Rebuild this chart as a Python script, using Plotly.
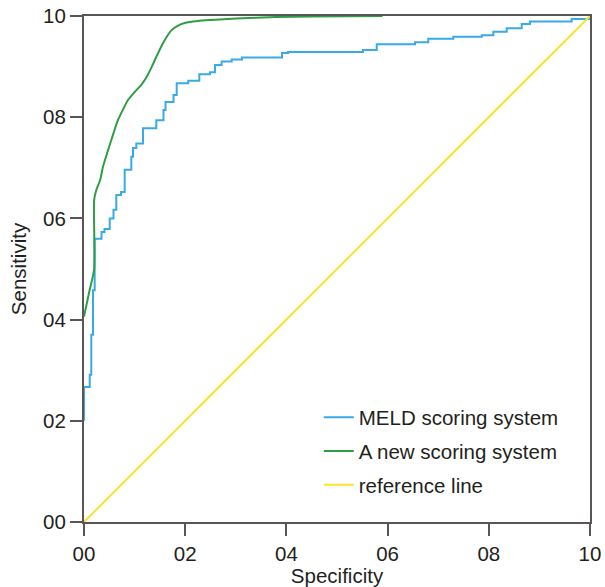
import plotly.graph_objects as go

# MELD scoring system (step ROC curve): specificity axis value, sensitivity
meld_x = [0.0, 0.0, 0.0113, 0.0144, 0.0178, 0.0211, 0.0346, 0.0405, 0.0508, 0.0583,
          0.0638, 0.0731, 0.0804, 0.0935, 0.0968, 0.1034, 0.1166, 0.1429, 0.1571,
          0.1611, 0.1769, 0.1832, 0.2061, 0.2279, 0.2490, 0.2589, 0.2721, 0.2919,
          0.3123, 0.3913, 0.4032, 0.5514, 0.5785, 0.6542, 0.6804, 0.7298, 0.7860,
          0.8089, 0.8354, 0.8650, 0.8814, 0.9638, 1.0]
meld_y = [0.200, 0.267, 0.291, 0.370, 0.458, 0.560, 0.573, 0.579, 0.600, 0.617,
          0.646, 0.652, 0.696, 0.722, 0.739, 0.748, 0.778, 0.794, 0.814,
          0.830, 0.844, 0.867, 0.872, 0.885, 0.889, 0.903, 0.910, 0.914,
          0.918, 0.927, 0.929, 0.933, 0.944, 0.948, 0.955, 0.959, 0.962,
          0.969, 0.976, 0.984, 0.989, 0.994, 1.0]

# A new scoring system (smooth curve)
new_x = [0.0, 0.010, 0.020, 0.020, 0.024, 0.032, 0.0375, 0.046, 0.054, 0.067, 0.077,
         0.087, 0.096, 0.104, 0.114, 0.124, 0.135, 0.146, 0.160, 0.173, 0.186,
         0.199, 0.225, 0.251, 0.300, 0.380, 0.450, 0.590]
new_y = [0.406, 0.453, 0.500, 0.636, 0.655, 0.676, 0.702, 0.730, 0.755, 0.794, 0.815,
         0.834, 0.845, 0.854, 0.865, 0.880, 0.902, 0.926, 0.953, 0.972, 0.981,
         0.986, 0.990, 0.992, 0.995, 0.998, 0.999, 1.0]

# Reference line
ref_x = [0.0, 1.0]
ref_y = [0.0, 1.0]

tick_vals = [0.0, 0.2, 0.4, 0.6, 0.8, 1.0]
tick_text = ["00", "02", "04", "06", "08", "10"]

FONT = "Liberation Sans, Arial, Helvetica, sans-serif"
TXT = "#231f20"
AX = "#5a5556"

fig = go.Figure()
fig.add_trace(go.Scatter(x=meld_x, y=meld_y, mode="lines", name="MELD scoring system",
                         line=dict(color="#3aaae6", width=2, shape="hv"),
                         cliponaxis=False, legendgroup="a"))
fig.add_trace(go.Scatter(x=new_x, y=new_y, mode="lines", name="A new scoring system",
                         line=dict(color="#2e9e44", width=2, shape="spline", smoothing=0.6),
                         cliponaxis=False, legendgroup="b"))
fig.add_trace(go.Scatter(x=ref_x, y=ref_y, mode="lines", name="reference line",
                         line=dict(color="#f8e42c", width=2),
                         cliponaxis=False, legendgroup="c"))

axis_common = dict(
    range=[0, 1], tickvals=tick_vals, ticktext=tick_text,
    showline=True, linecolor=AX, linewidth=2, mirror=True,
    ticks="outside", ticklen=12, tickwidth=2, tickcolor=AX,
    showgrid=False, zeroline=False, automargin=False,
    ticklabeloverflow="allow",
    tickfont=dict(size=20.5, color=TXT, family=FONT),
)

fig.update_layout(
    width=605, height=587,
    margin=dict(l=84, r=15, t=16, b=65),
    plot_bgcolor="white", paper_bgcolor="white",
    font=dict(family=FONT, color=TXT),
    xaxis=dict(**axis_common, title=dict(text="Specificity", font=dict(size=20.5, color=TXT), standoff=0)),
    yaxis=dict(**axis_common, title=dict(text="Sensitivity", font=dict(size=20.5, color=TXT), standoff=11)),
    legend=dict(x=0.464, y=0.246, xanchor="left", yanchor="top",
                font=dict(size=20.5, color=TXT, family=FONT),
                bgcolor="rgba(0,0,0,0)", tracegroupgap=4),
    showlegend=True,
)

fig.write_html("out.html", config={"displayModeBar": False},
               post_script="document.body.style.margin='0';")
